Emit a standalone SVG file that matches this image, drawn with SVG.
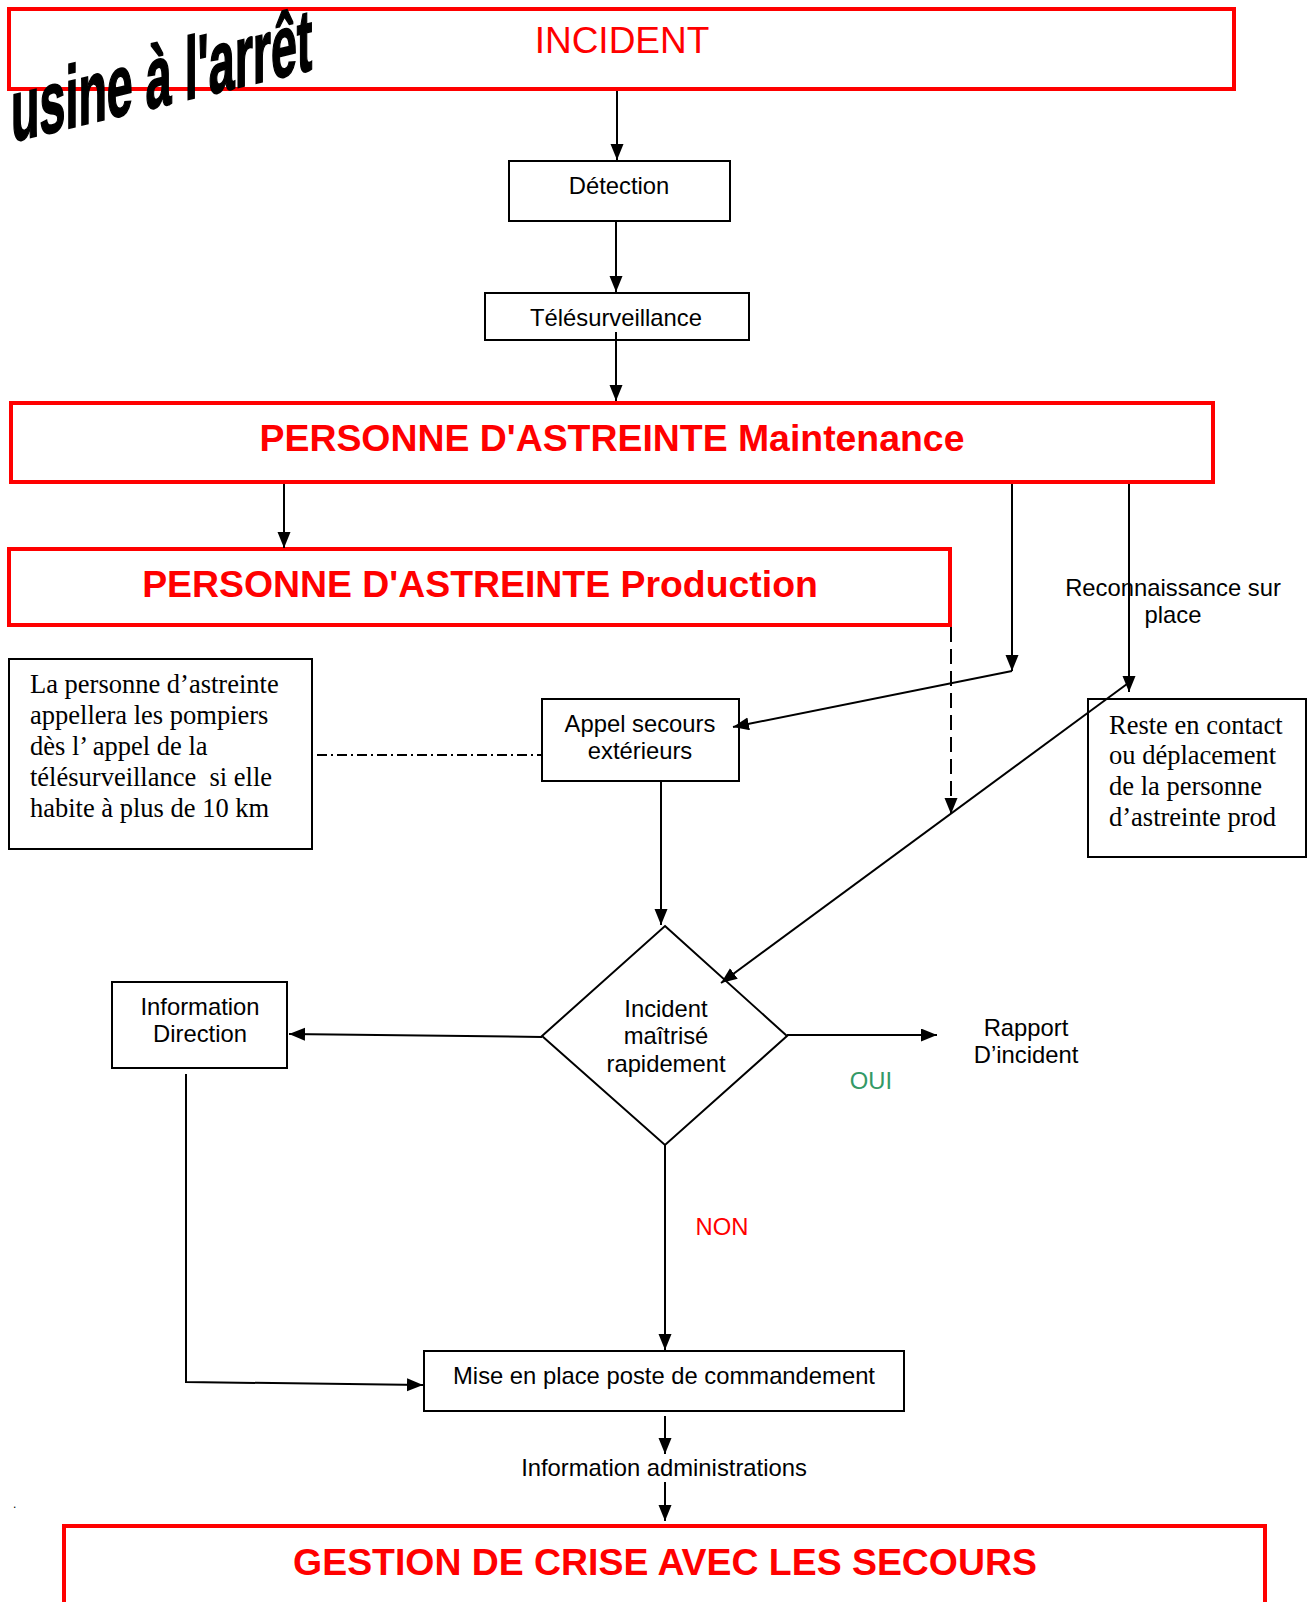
<svg xmlns="http://www.w3.org/2000/svg" width="1314" height="1602" viewBox="0 0 1314 1602">
<style>
.red{fill:none;stroke:#ff0000;stroke-width:4}
.box{fill:none;stroke:#000;stroke-width:2}
.ln{fill:none;stroke:#000;stroke-width:2}
.t{font-family:"Liberation Sans",Arial,sans-serif;font-size:23.8px;fill:#000;text-anchor:middle}
.tr{font-family:"Liberation Sans",Arial,sans-serif;font-size:37.4px;font-weight:bold;fill:#ff0000;text-anchor:middle}
.s{font-family:"Liberation Serif","Times New Roman",serif;font-size:26.5px;fill:#000}
</style>
<defs>
<marker id="ah" markerUnits="userSpaceOnUse" markerWidth="18" markerHeight="14" refX="16" refY="6.5" orient="auto">
<path d="M0,0 L16,6.5 L0,13 z" fill="#000"/>
</marker>
</defs>
<rect width="1314" height="1602" fill="#fff"/>

<g id="incident">
<rect class="red" x="9" y="9" width="1225" height="80"/>
<text x="622" y="53" font-family="Liberation Sans, Arial, sans-serif" font-size="37" fill="#ff0000" text-anchor="middle">INCIDENT</text>
</g>
<g id="usine">
<text transform="translate(11,142) skewY(-13.5) scale(0.53,1)" font-family="Liberation Sans, Arial, sans-serif" font-size="88" font-weight="bold" fill="#000" stroke="#000" stroke-width="2">usine à l'arrêt</text>
</g>

<g id="detection">
<rect class="box" x="509" y="161" width="221" height="60"/>
<text class="t" x="619" y="194">Détection</text>
</g>
<g id="telesurveillance">
<rect class="box" x="485" y="293" width="264" height="47"/>
<text class="t" x="616" y="326">Télésurveillance</text>
</g>
<g id="maintenance">
<rect class="red" x="11" y="403" width="1202" height="79"/>
<text class="tr" x="612" y="451">PERSONNE D'ASTREINTE Maintenance</text>
</g>
<g id="production">
<rect class="red" x="9" y="549" width="941" height="76"/>
<text class="tr" x="480" y="597">PERSONNE D'ASTREINTE Production</text>
</g>
<g id="note">
<rect class="box" x="9" y="659" width="303" height="190"/>
<text class="s" x="30" y="693">La personne d’astreinte</text>
<text class="s" x="30" y="724">appellera les pompiers</text>
<text class="s" x="30" y="755">dès l’ appel de la</text>
<text class="s" x="30" y="786" xml:space="preserve">télésurveillance  si elle</text>
<text class="s" x="30" y="817">habite à plus de 10 km</text>
</g>
<g id="appel">
<rect class="box" x="542" y="699" width="197" height="82"/>
<text class="t" x="640" y="732">Appel secours</text>
<text class="t" x="640" y="759">extérieurs</text>
</g>
<g id="reste">
<rect class="box" x="1088" y="699" width="218" height="158"/>
<text class="s" x="1109" y="734">Reste en contact</text>
<text class="s" x="1109" y="764">ou déplacement</text>
<text class="s" x="1109" y="795">de la personne</text>
<text class="s" x="1109" y="826">d’astreinte prod</text>
</g>
<g id="reconnaissance">
<text class="t" x="1173" y="596">Reconnaissance sur</text>
<text class="t" x="1173" y="623">place</text>
</g>
<g id="decision">
<polygon points="665,926 787,1036 665,1145 542,1036" fill="none" stroke="#000" stroke-width="2"/>
<text class="t" x="666" y="1017">Incident</text>
<text class="t" x="666" y="1044">maîtrisé</text>
<text class="t" x="666" y="1072">rapidement</text>
</g>
<g id="direction">
<rect class="box" x="112" y="982" width="175" height="86"/>
<text class="t" x="200" y="1015">Information</text>
<text class="t" x="200" y="1042">Direction</text>
</g>
<g id="rapport">
<text class="t" x="1026" y="1036">Rapport</text>
<text class="t" x="1026" y="1063">D’incident</text>
</g>
<g id="labels">
<text class="t" x="871" y="1089" style="fill:#339966">OUI</text>
<text class="t" x="722" y="1235" style="fill:#ff0000">NON</text>
<text class="t" x="664" y="1476">Information administrations</text>
<text x="13" y="1508" font-family="Liberation Sans, Arial, sans-serif" font-size="12" fill="#000">.</text>
</g>
<g id="poste">
<rect class="box" x="424" y="1351" width="480" height="60"/>
<text class="t" x="664" y="1384">Mise en place poste de commandement</text>
</g>
<g id="gestion">
<rect class="red" x="64" y="1526" width="1201" height="90"/>
<text class="tr" x="665" y="1575">GESTION DE CRISE AVEC LES SECOURS</text>
</g>

<g id="connectors">
<line class="ln" x1="617" y1="91" x2="617" y2="160" marker-end="url(#ah)"/>
<line class="ln" x1="616" y1="221" x2="616" y2="292" marker-end="url(#ah)"/>
<line class="ln" x1="616" y1="332" x2="616" y2="401" marker-end="url(#ah)"/>
<line class="ln" x1="284" y1="484" x2="284" y2="548" marker-end="url(#ah)"/>
<line class="ln" x1="1012" y1="484" x2="1012" y2="671" marker-end="url(#ah)"/>
<line class="ln" x1="1012" y1="671" x2="733" y2="727" marker-end="url(#ah)"/>
<line class="ln" x1="1129" y1="484" x2="1129" y2="692" marker-end="url(#ah)"/>
<line class="ln" x1="1127" y1="684" x2="721" y2="983" marker-end="url(#ah)"/>
<line class="ln" x1="951" y1="627" x2="951" y2="814" stroke-dasharray="15 7" marker-end="url(#ah)"/>
<line class="ln" x1="317" y1="755" x2="542" y2="755" stroke-width="1.5" stroke-dasharray="10 4 2 4"/>
<line class="ln" x1="661" y1="781" x2="661" y2="925" marker-end="url(#ah)"/>
<line class="ln" x1="542" y1="1037" x2="289" y2="1034" marker-end="url(#ah)"/>
<line class="ln" x1="787" y1="1035" x2="937" y2="1035" marker-end="url(#ah)"/>
<line class="ln" x1="665" y1="1145" x2="665" y2="1350" marker-end="url(#ah)"/>
<polyline class="ln" points="186,1074 186,1382 423,1385" marker-end="url(#ah)"/>
<line class="ln" x1="665" y1="1416" x2="665" y2="1454" marker-end="url(#ah)"/>
<line class="ln" x1="665" y1="1482" x2="665" y2="1521" marker-end="url(#ah)"/>
</g>
</svg>
